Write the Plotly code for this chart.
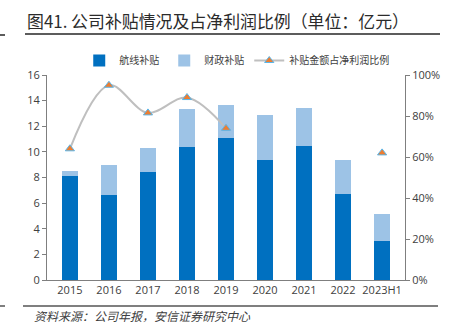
import plotly.graph_objects as go

categories = ["2015", "2016", "2017", "2018", "2019", "2020", "2021", "2022", "2023H1"]
route_subsidy = [8.1, 6.6, 8.45, 10.35, 11.05, 9.4, 10.45, 6.75, 3.05]
total_subsidy = [8.5, 9.0, 10.3, 13.35, 13.65, 12.85, 13.45, 9.4, 5.15]
fiscal_subsidy = [round(t - r, 2) for t, r in zip(total_subsidy, route_subsidy)]
ratio_pct = [64, 95, 81.5, 89, 74, None, None, None, 62]

CJK = "Noto Sans CJK SC"
NUM = "Open Sans"
PW, PH = 358, 205  # plot area size in px

fig = go.Figure()
fig.add_trace(go.Bar(x=categories, y=route_subsidy, name="航线补贴",
                     marker=dict(color="#0070C0", line=dict(width=0)), width=0.4))
fig.add_trace(go.Bar(x=categories, y=fiscal_subsidy, name="财政补贴",
                     marker=dict(color="#9DC3E6", line=dict(width=0)), width=0.4))
fig.add_trace(go.Scatter(x=categories, y=ratio_pct, name="补贴金额占净利润比例", yaxis="y2",
                         mode="lines+markers", connectgaps=False,
                         line=dict(color="#BFBFBF", width=2, shape="spline", smoothing=1.0),
                         marker=dict(symbol="triangle-up", size=8, color="#ED7D31",
                                     line=dict(color="#5BB5E8", width=1))))

fig.update_layout(
    width=454, height=330,
    margin=dict(l=47, r=49, t=75, b=50),
    paper_bgcolor="white", plot_bgcolor="white",
    barmode="stack", bargap=0.6,
    font=dict(family=NUM, size=11, color="#404040"),
    showlegend=True,
    legend=dict(orientation="h", x=0.53, xanchor="center", y=1.0, yanchor="bottom",
                traceorder="normal",
                font=dict(family=CJK, size=10, color="#404040"),
                itemwidth=30, tracegroupgap=0, bgcolor="rgba(0,0,0,0)"),
    xaxis=dict(type="category", showline=True, linecolor="#7F7F7F", linewidth=1,
               ticks="", showgrid=False, tickfont=dict(family=NUM, size=11, color="#404040")),
    yaxis=dict(range=[0, 16], dtick=2, showline=True, linecolor="#7F7F7F", linewidth=1,
               ticks="outside", ticklen=4, tickcolor="#7F7F7F", showgrid=False, zeroline=False,
               tickfont=dict(family=NUM, size=11, color="#404040")),
    yaxis2=dict(range=[0, 100], dtick=20, ticksuffix="%", overlaying="y", side="right",
                showline=True, linecolor="#7F7F7F", linewidth=1,
                ticks="outside", ticklen=4, tickcolor="#7F7F7F", showgrid=False, zeroline=False,
                tickfont=dict(family=NUM, size=11, color="#404040")),
)

# title and decorations (paper coords relative to plot area at x=47..405, y=75..280)
fig.add_annotation(text="图41. 公司补贴情况及占净利润比例（单位：亿元）", xref="paper", yref="paper",
                   x=0, xanchor="left", y=1, yanchor="middle", xshift=-22, yshift=55,
                   showarrow=False, font=dict(family=CJK, size=16.9, color="#2b2b2b"))
fig.add_shape(type="line", xref="paper", yref="paper", x0=-22/PW, x1=393/PW,
              y0=1 + 41/PH, y1=1 + 41/PH, line=dict(color="#262626", width=1.5))
fig.add_shape(type="line", xref="paper", yref="paper", x0=-47/PW, x1=-42/PW,
              y0=1 + 40/PH, y1=1 + 40/PH, line=dict(color="#262626", width=1.5))
fig.add_shape(type="line", xref="paper", yref="paper", x0=-24/PW, x1=391/PW,
              y0=-26/PH, y1=-26/PH, line=dict(color="#555555", width=1.5))
fig.add_shape(type="line", xref="paper", yref="paper", x0=-47/PW, x1=-42/PW,
              y0=-26/PH, y1=-26/PH, line=dict(color="#555555", width=1.5))
fig.add_annotation(text="<i>资料来源：公司年报，安信证券研究中心</i>", xref="paper", yref="paper",
                   x=0, xanchor="left", y=0, yanchor="middle", xshift=-15, yshift=-35,
                   showarrow=False, font=dict(family=CJK, size=12, color="#404040"))

fig.write_html("out.html")
